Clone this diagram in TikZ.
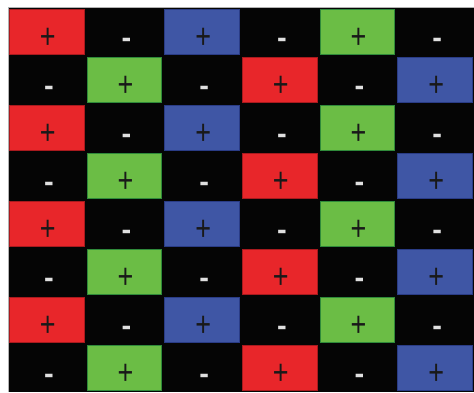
\documentclass[tikz,border=0pt]{standalone}
\usepackage{fontspec}
\newfontfamily\signfont{Liberation Sans}
\definecolor{cred}{HTML}{E8262A}
\definecolor{cgreen}{HTML}{6BBD45}
\definecolor{cblue}{HTML}{3F56A5}
\definecolor{bred}{HTML}{A81A1E}
\definecolor{bgreen}{HTML}{2F8A3A}
\definecolor{bblue}{HTML}{2A3C86}
\definecolor{cblack}{HTML}{050505}
\tikzset{
  cellbox/.style={line width=1pt},
  plussign/.style={inner sep=0pt, text=black!90, font=\signfont\fontsize{27}{27}\selectfont},
  minussign/.style={inner sep=0pt, text=white!88!black, font=\signfont\bfseries\fontsize{29}{29}\selectfont}
}
\begin{document}
\begin{tikzpicture}[x=1pt,y=-1pt]
\useasboundingbox (0,0) rectangle (474,392);
\fill[white] (0,0) rectangle (474,392);
\fill[cblack] (8,8) rectangle (474,392);
\draw[black!30, line width=0.6pt] (8,392) -- (8,7.7) -- (474,7.7);
% even rows
\foreach \j in {0,2,4,6} {
  \foreach \i/\c/\b in {0/cred/bred,2/cblue/bblue,4/cgreen/bgreen} {
    \filldraw[cellbox, fill=\c, draw=\b] ({8+\i*77.667+1.5},{8+\j*48+1.5}) rectangle ({8+(\i+1)*77.667-1.5},{8+(\j+1)*48-1.5});
    \node[plussign] (p-\i-\j) at ({8+(\i+0.5)*77.667+1},{8+\j*48+30}) {\scalebox{1}[1.3]{+}};
  }
  \foreach \i in {1,3,5} {
    \node[minussign] (m-\i-\j) at ({8+(\i+0.5)*77.667+2},{8+\j*48+35}) {-};
  }
}
% odd rows
\foreach \j in {1,3,5,7} {
  \foreach \i/\c/\b in {1/cgreen/bgreen,3/cred/bred,5/cblue/bblue} {
    \filldraw[cellbox, fill=\c, draw=\b] ({8+\i*77.667+1.5},{8+\j*48+1.5}) rectangle ({8+(\i+1)*77.667-1.5},{8+(\j+1)*48-1.5});
    \node[plussign] (p-\i-\j) at ({8+(\i+0.5)*77.667+1},{8+\j*48+30}) {\scalebox{1}[1.3]{+}};
  }
  \foreach \i in {0,2,4} {
    \node[minussign] (m-\i-\j) at ({8+(\i+0.5)*77.667+2},{8+\j*48+35}) {-};
  }
}
\end{tikzpicture}
\end{document}
